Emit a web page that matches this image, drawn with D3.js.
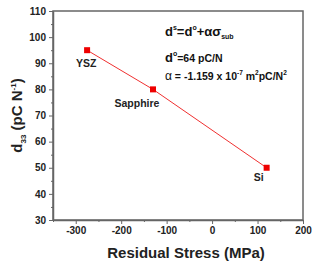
<!DOCTYPE html>
<html>
<head>
<meta charset="utf-8">
<script src="https://cdn.jsdelivr.net/npm/d3@7"></script>
<style>
  body { margin: 0; background: #fff; }
  text { font-family: "Liberation Sans", Arial, sans-serif; }
</style>
</head>
<body>
<div id="chart"></div>
<script>
const substrates = ["YSZ", "Sapphire", "Si"];
const stress = [-275, -130, 120];
const d33 = [95, 80, 50];
const xTicks = [-300, -200, -100, 0, 100, 200];
const yTicks = [30, 40, 50, 60, 70, 80, 90, 100, 110];

const width = 315, height = 263;
const margin = { top: 11, right: 12, bottom: 43, left: 53 };

const svg = d3.select("#chart").append("svg")
  .attr("width", width)
  .attr("height", height);

const x = d3.scaleLinear()
  .domain([-350, 200])
  .range([margin.left, width - margin.right]);

const y = d3.scaleLinear()
  .domain([30, 110])
  .range([height - margin.bottom, margin.top]);

const frameColor = "#666";

// minor ticks
const xMinor = d3.range(-350, 201, 50).filter(v => !xTicks.includes(v));
const yMinor = d3.range(35, 110, 10);

const xAxis = svg.append("g")
  .attr("transform", "translate(0," + y(30) + ")")
  .call(d3.axisBottom(x).tickValues(xTicks).tickFormat(d => String(d)).tickSize(4).tickPadding(3).tickSizeOuter(0));
xAxis.selectAll("text").style("font-size", "10px").style("font-weight", "bold").attr("fill", "#222");

svg.append("g")
  .attr("transform", "translate(0," + y(30) + ")")
  .call(d3.axisBottom(x).tickValues(xMinor).tickSize(2).tickFormat("").tickSizeOuter(0))
  .select(".domain").remove();

const yAxis = svg.append("g")
  .attr("transform", "translate(" + x(-350) + ",0)")
  .call(d3.axisLeft(y).tickValues(yTicks).tickFormat(d => String(d)).tickSize(4).tickPadding(3).tickSizeOuter(0));
yAxis.selectAll("text").style("font-size", "10px").style("font-weight", "bold").attr("fill", "#222");

svg.append("g")
  .attr("transform", "translate(" + x(-350) + ",0)")
  .call(d3.axisLeft(y).tickValues(yMinor).tickSize(2).tickFormat("").tickSizeOuter(0))
  .select(".domain").remove();

svg.selectAll(".tick line").attr("stroke", frameColor);
svg.selectAll(".domain").attr("stroke", frameColor).attr("stroke-width", 1.5);

// frame
svg.append("rect")
  .attr("x", x(-350))
  .attr("y", y(110))
  .attr("width", x(200) - x(-350))
  .attr("height", y(30) - y(110))
  .attr("fill", "none")
  .attr("stroke", frameColor)
  .attr("stroke-width", 1.5);

// data
const pts = substrates.map((s, i) => ({ name: s, x: stress[i], y: d33[i] }));

svg.append("path")
  .datum(pts)
  .attr("fill", "none")
  .attr("stroke", "#f03030")
  .attr("stroke-width", 1)
  .attr("d", d3.line().x(d => x(d.x)).y(d => y(d.y)));

svg.selectAll(".pt")
  .data(pts)
  .join("rect")
  .attr("class", "pt")
  .attr("x", d => x(d.x) - 3)
  .attr("y", d => y(d.y) - 3)
  .attr("width", 6)
  .attr("height", 6)
  .attr("fill", "#ee0000");

const labelOffsets = { YSZ: [-1, 17], Sapphire: [-16, 18], Si: [-8, 13] };
svg.selectAll(".lbl")
  .data(pts)
  .join("text")
  .attr("class", "lbl")
  .attr("x", d => x(d.x) + labelOffsets[d.name][0])
  .attr("y", d => y(d.y) + labelOffsets[d.name][1])
  .attr("text-anchor", "middle")
  .style("font-size", "10.5px")
  .style("font-weight", "bold")
  .attr("fill", "#222")
  .text(d => d.name);

// equation block
const eq = svg.append("g").attr("fill", "#111");
const l1 = eq.append("text").attr("x", 165).attr("y", 36).style("font-weight", "bold");
l1.append("tspan").style("font-size", "13px").text("d");
l1.append("tspan").style("font-size", "7px").attr("dy", -6).text("s");
l1.append("tspan").style("font-size", "13px").attr("dy", 6).text("=d");
l1.append("tspan").style("font-size", "7px").attr("dy", -6).text("o");
l1.append("tspan").style("font-size", "13px").attr("dy", 6).text("+\u03b1\u03c3");
l1.append("tspan").style("font-size", "7px").attr("dy", 3).text("sub");

const l2 = eq.append("text").attr("x", 165).attr("y", 62).style("font-weight", "bold");
l2.append("tspan").style("font-size", "13px").text("d");
l2.append("tspan").style("font-size", "7px").attr("dy", -6).text("o");
l2.append("tspan").style("font-size", "10.5px").attr("dy", 6).text("=64 pC/N");

const l3 = eq.append("text").attr("x", 165).attr("y", 80).style("font-weight", "bold").style("font-size", "10.5px");
l3.append("tspan").style("font-weight", "normal").style("font-size", "12px").text("\u03b1");
l3.append("tspan").text(" = -1.159 x 10");
l3.append("tspan").style("font-size", "6.5px").attr("dy", -5).text("-7");
l3.append("tspan").attr("dy", 5).text(" m");
l3.append("tspan").style("font-size", "6.5px").attr("dy", -5).text("2");
l3.append("tspan").attr("dy", 5).text("pC/N");
l3.append("tspan").style("font-size", "6.5px").attr("dy", -5).text("2");

// axis titles
svg.append("text")
  .attr("x", 186)
  .attr("y", 258)
  .attr("text-anchor", "middle")
  .style("font-size", "15px")
  .style("font-weight", "bold")
  .attr("fill", "#222")
  .text("Residual Stress (MPa)");

const yl = svg.append("text")
  .attr("transform", "translate(22," + (y(30) + y(110)) / 2 + ") rotate(-90)")
  .attr("text-anchor", "middle")
  .style("font-size", "15px")
  .style("font-weight", "bold")
  .attr("fill", "#222");
yl.append("tspan").text("d");
yl.append("tspan").style("font-size", "8px").attr("dy", 4).text("33");
yl.append("tspan").attr("dy", -4).text(" (pC N");
yl.append("tspan").style("font-size", "8px").attr("dy", -6).text("-1");
yl.append("tspan").attr("dy", 6).text(")");
</script>
</body>
</html>
